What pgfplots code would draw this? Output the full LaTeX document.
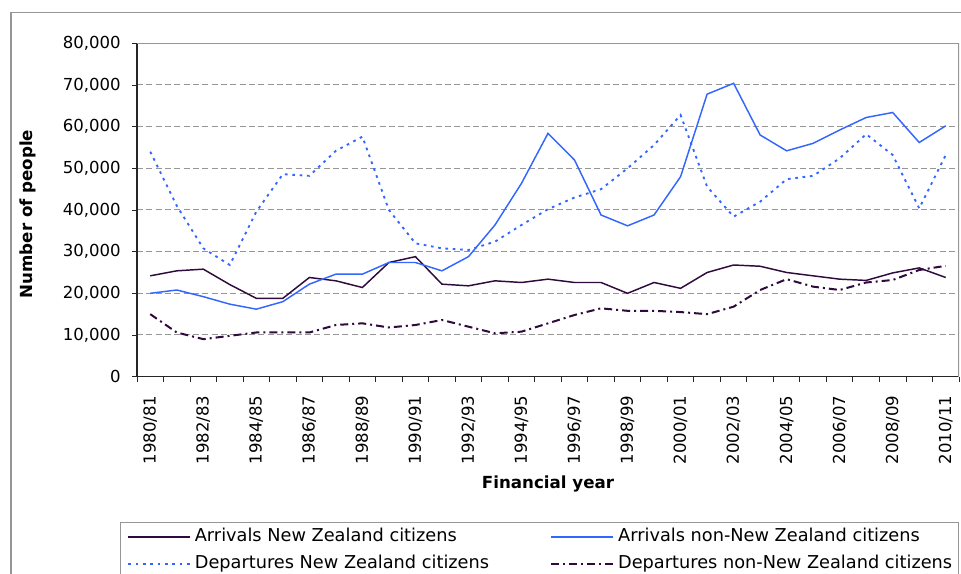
\documentclass[border=0pt]{standalone}
\usepackage{fontspec}
\setmainfont{DejaVu Sans}
\usepackage{pgfplots}
\usepackage{pgfplotstable}
\pgfplotsset{compat=1.18}
\definecolor{dpurple}{RGB}{48,10,60}
\definecolor{mblue}{RGB}{51,102,255}
\definecolor{frameg}{RGB}{150,150,150}
\pgfplotstableread{
i ANZ AnonNZ DNZ DnonNZ
0 24200 20000 54000 15000
1 25400 20800 41000 10600
2 25800 19200 30800 9000
3 22100 17400 26800 9800
4 18800 16200 39600 10600
5 18800 18000 48600 10600
6 23800 22200 48200 10600
7 23000 24600 54200 12400
8 21400 24600 57600 12800
9 27400 27400 40000 11800
10 28800 27400 32000 12400
11 22200 25400 30800 13600
12 21800 28800 30400 12000
13 23000 36400 32400 10400
14 22600 46400 36400 10800
15 23400 58400 40200 12800
16 22600 52000 43000 14800
17 22600 38800 45000 16400
18 20000 36200 50000 15800
19 22600 38800 55600 15800
20 21200 48000 62800 15500
21 25000 67800 45600 15000
22 26800 70400 38400 16800
23 26500 58000 42000 20800
24 25000 54200 47400 23400
25 24200 56000 48200 21600
26 23400 59200 52400 20800
27 23100 62200 58200 22600
28 24900 63400 53200 23200
29 26100 56200 40400 25600
30 23800 60200 53200 26600
}\datatable
\begin{document}
\begin{tikzpicture}
\useasboundingbox (0,0) rectangle (720.75pt,430.5pt);
\draw[frameg, line width=0.9pt] (8.25pt,-5pt) -- (8.25pt,421.3pt) -- (730pt,421.3pt);
\begin{axis}[
  at={(102.75pt,148pt)}, anchor=south west,
  scale only axis, width=616.5pt, height=250pt,
  xmin=-0.5, xmax=30.5, ymin=0, ymax=80000,
  axis lines=left, axis line style={-, line width=0.9pt, black!85},
  tick align=outside,
  major tick length=3.75pt, minor tick length=3.75pt,
  tick style={line width=0.7pt, black!85},
  xtick={0,2,...,30},
  xticklabels={1980/81,1982/83,1984/85,1986/87,1988/89,1990/91,1992/93,1994/95,1996/97,1998/99,2000/01,2002/03,2004/05,2006/07,2008/09,2010/11},
  minor xtick={-0.5,0.5,...,30.5},
  major x tick style={draw=none},
  ytick={0,10000,...,80000},
  scaled y ticks=false,
  /pgf/number format/assume math mode=true,
  yticklabel style={/pgf/number format/fixed, /pgf/number format/1000 sep={,}, xshift=-5pt},
  ticklabel style={font=\fontsize{12.4pt}{14pt}\selectfont},
  xticklabel style={yshift=-7pt, rotate=90, anchor=east},
  ymajorgrids,
  grid style={dash pattern=on 4.5pt off 2.5pt, line width=0.75pt, frameg},
  ylabel={Number of people},
  xlabel={Financial year},
  ylabel style={at={(axis description cs:-0.1332,0.488)}, anchor=center, rotate=0, font=\fontsize{12.5pt}{14pt}\selectfont\bfseries},
  xlabel style={at={(axis description cs:0.5,-0.322)}, anchor=center, font=\fontsize{12.5pt}{14pt}\selectfont\bfseries},
  legend columns=2,
  legend image code/.code={\draw[#1] (0pt,0pt) -- (46pt,0pt);},
  legend style={at={(axis description cs:-0.0207,-0.4349)}, anchor=north west,
    draw=frameg, line width=0.9pt, inner xsep=5pt, inner ysep=5pt,
    column sep=3.3pt, row sep=8pt,
    cells={anchor=west},
    nodes={inner sep=0pt, text height=9.5pt, text depth=2.5pt},
    font=\fontsize{13.3pt}{15pt}\selectfont},
]
\addplot[dpurple, line width=1.1pt] table[x=i, y=ANZ] {\datatable};
\addlegendentry{\makebox[263.4pt][l]{Arrivals New Zealand citizens}}
\addplot[mblue, line width=1.1pt] table[x=i, y=AnonNZ] {\datatable};
\addlegendentry{Arrivals non-New Zealand citizens}
\addplot[mblue, line width=1.4pt, dash pattern=on 2pt off 3.5pt] table[x=i, y=DNZ] {\datatable};
\addlegendentry{\makebox[263.4pt][l]{Departures New Zealand citizens}}
\addplot[dpurple, line width=1.5pt, dash pattern=on 6pt off 3pt on 1.5pt off 3pt] table[x=i, y=DnonNZ] {\datatable};
\addlegendentry{Departures non-New Zealand citizens}
\draw[frameg, line width=0.9pt] (rel axis cs:0,1) -- (rel axis cs:1,1) -- (rel axis cs:1,0);
\end{axis}
\end{tikzpicture}
\end{document}
